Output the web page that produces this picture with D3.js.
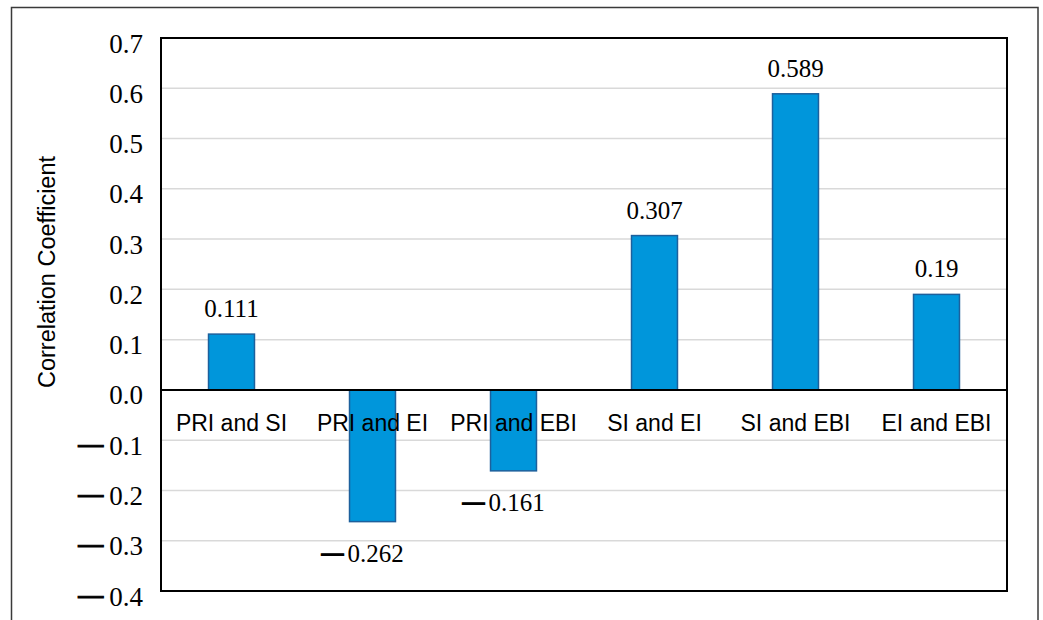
<!DOCTYPE html>
<html><head><meta charset="utf-8">
<script src="https://cdn.jsdelivr.net/npm/d3@7"></script>
<style>body{margin:0;background:#fff}</style>
</head><body>
<svg id="chart" width="1043" height="620"></svg>
<script>
const categories = ["PRI and SI","PRI and EI","PRI and EBI","SI and EI","SI and EBI","EI and EBI"];
const values = [0.111,-0.262,-0.161,0.307,0.589,0.19];
const yTicks = [0.7,0.6,0.5,0.4,0.3,0.2,0.1,0.0,-0.1,-0.2,-0.3,-0.4];
const yTitle = "Correlation Coefficient";

const svg = d3.select("#chart");
const m = {left:161, top:38, right:1007, bottom:591};
const serif = "'Liberation Serif','Times New Roman',serif";
const sans = "'Liberation Sans',Arial,sans-serif";

// outer frame
svg.append("rect").attr("x",11.5).attr("y",7.5).attr("width",1026.5).attr("height",700)
  .attr("fill","none").attr("stroke","#3a3a3a").attr("stroke-width",1.5);

const x = d3.scaleBand().domain(categories).range([m.left,m.right]).paddingInner(0).paddingOuter(0);
const y = d3.scaleLinear().domain([-0.4,0.7]).range([m.bottom,m.top]);

// gridlines
svg.append("g").selectAll("line").data(yTicks).join("line")
  .attr("x1",m.left).attr("x2",m.right)
  .attr("y1",d=>y(d)).attr("y2",d=>y(d))
  .attr("stroke","#d9d9d9").attr("stroke-width",1.5);

function writeSigned(t, d, label, dashSize, gap, lift){
  if (d < -1e-9) {
    t.append("tspan").attr("font-family",serif).attr("font-weight","bold")
      .attr("font-size",dashSize).attr("dy",-lift)
      .attr("stroke","#000").attr("stroke-width",1.1).text("\u2014");
    t.append("tspan").attr("dx",gap).attr("dy",lift).text(label);
  } else {
    t.append("tspan").text(label);
  }
}

// y axis labels
const fmt = d3.format(".1f");
const yAxis = d3.axisLeft(y).tickValues(yTicks).tickSize(0).tickPadding(0).tickFormat(d=>fmt(Math.abs(d)));
const yg = svg.append("g").attr("transform",`translate(143,0)`).call(yAxis);
yg.select(".domain").remove();
yg.selectAll("text").each(function(d){
  const t = d3.select(this);
  t.text(null).attr("dy",null).attr("y",14)
   .attr("font-family",serif).attr("font-size",27)
   .attr("fill","#000").attr("text-anchor","end");
  writeSigned(t, d, fmt(Math.abs(d)), 25, 6, 3);
});

// bars
const bw = x.bandwidth()*0.326;
svg.append("g").selectAll("rect").data(values).join("rect")
  .attr("x",(d,i)=>x(categories[i])+x.bandwidth()/2-bw/2)
  .attr("width",bw)
  .attr("y",d=>y(Math.max(0,d)))
  .attr("height",d=>Math.abs(y(d)-y(0)))
  .attr("fill","#0096db").attr("stroke","#1d609c").attr("stroke-width",1.5);

// zero line
svg.append("line").attr("x1",m.left).attr("x2",m.right).attr("y1",y(0)).attr("y2",y(0))
  .attr("stroke","#000").attr("stroke-width",2);

// category labels
svg.append("g").selectAll("text").data(categories).join("text")
  .attr("x",d=>x(d)+x.bandwidth()/2).attr("y",y(0)+41)
  .attr("text-anchor","middle")
  .attr("font-family",sans).attr("font-size",23).attr("fill","#000")
  .text(d=>d);

// value labels
const vl = svg.append("g").selectAll("text").data(values).join("text")
  .attr("x",(d,i)=>x(categories[i])+x.bandwidth()/2 + (d<0?-10:0))
  .attr("y",d=> d>=0 ? y(d)-17 : y(d)+40)
  .attr("text-anchor","middle")
  .attr("font-family",serif).attr("font-size",25).attr("fill","#000");
vl.each(function(d){
  writeSigned(d3.select(this), d, String(Math.abs(d)), 22, 4, 2);
});

// plot frame
svg.append("rect").attr("x",m.left).attr("y",m.top).attr("width",m.right-m.left).attr("height",m.bottom-m.top)
  .attr("fill","none").attr("stroke","#000").attr("stroke-width",2);

// y title
svg.append("text").attr("transform",`translate(${55},${272}) rotate(-90)`)
  .attr("text-anchor","middle")
  .attr("font-family",sans).attr("font-size",23.5).attr("fill","#000")
  .text(yTitle);
</script>
</body></html>
